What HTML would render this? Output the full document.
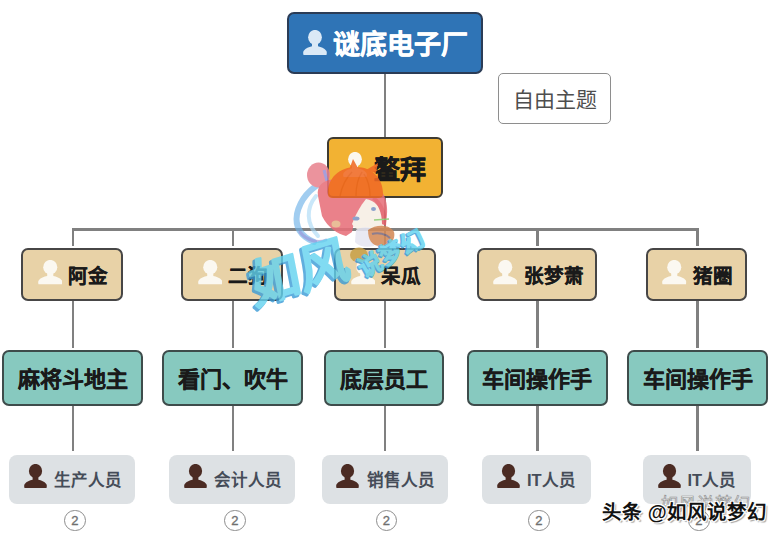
<!DOCTYPE html>
<html lang="zh-CN"><head><meta charset="utf-8">
<style>
*{margin:0;padding:0;box-sizing:border-box}
html,body{width:781px;height:538px;overflow:hidden;background:#fff;font-family:"Liberation Sans",sans-serif}
.b{position:absolute;display:flex;align-items:center;justify-content:center;white-space:nowrap}
.l{position:absolute;background:#808080}
.root{padding-top:0px;left:287px;top:11.5px;width:196px;height:62.5px;background:#2f74b6;border:2px solid #2b3c56;border-radius:7px;color:#fff;font-size:27px;font-weight:bold}
.free{padding-top:0px;left:498.3px;top:72.8px;width:112.7px;height:51.2px;background:#fff;border:1.8px solid #8e8e8e;border-radius:5px;color:#4e4e4e;font-size:21px}
.ao{padding-bottom:1px;left:327px;top:137px;width:116px;height:61px;background:#f2b233;border:2.5px solid #3f3b31;border-radius:6px;font-size:26px;font-weight:bold;color:#1a1a1a}
.r2{top:247.5px;height:53px;justify-content:flex-start;padding-left:45px;padding-top:0px;background:#e8d2a7;border:2.5px solid #474646;border-radius:7px;font-size:19.5px;font-weight:bold;color:#1a1a1a}
.r3{padding-bottom:1px;top:349.5px;height:56px;background:#87c9bf;border:2.5px solid #3e4c4b;border-radius:7px;font-size:22px;font-weight:bold;color:#1a1a1a}
.r4{top:454.5px;height:49px;justify-content:flex-start;padding-left:45px;padding-top:0px;background:#dde1e4;border-radius:8px;font-size:16.5px;font-weight:bold;color:#454c58}
.ic{position:absolute}
.root,.ao{-webkit-text-stroke:0.4px currentColor}
.r2,.r3{-webkit-text-stroke:0.25px currentColor}
.r4{-webkit-text-stroke:0px currentColor}
.c2{position:absolute;top:509.5px;width:21.5px;height:21.5px;border:1.5px solid #8d8d8d;border-radius:50%;font-size:13px;color:#707070;-webkit-text-stroke:0.35px #707070;display:flex;align-items:center;justify-content:center;background:#fff}
</style></head><body>
<svg width="0" height="0" style="position:absolute"><defs><symbol id="p" viewBox="0 0 24 25" preserveAspectRatio="none"><ellipse cx="12" cy="7.3" rx="6.9" ry="7.4"/><path d="M0.5 25C0 23 0 21.5 1 20.5C2.5 18.2 6 17 9 16.3V13H15V16.3C18 17 21.5 18.2 23 20.5C24 21.5 24 23 23.5 25Z"/></symbol></defs></svg>
<!-- lines -->
<div class="l" style="left:383.60px;top:74px;width:2.8px;height:62.5px"></div>
<div class="l" style="left:383.60px;top:198px;width:2.8px;height:31px"></div>
<div class="l" style="left:71.50px;top:228.2px;width:627.40px;height:2.8px"></div>
<div class="l" style="left:71.50px;top:229px;width:2.8px;height:17px"></div>
<div class="l" style="left:71.50px;top:301px;width:2.8px;height:46.80000000000001px"></div>
<div class="l" style="left:71.50px;top:405px;width:2.8px;height:46px"></div>
<div class="l" style="left:231.70px;top:229px;width:2.8px;height:17px"></div>
<div class="l" style="left:231.70px;top:301px;width:2.8px;height:46.80000000000001px"></div>
<div class="l" style="left:231.70px;top:405px;width:2.8px;height:46px"></div>
<div class="l" style="left:383.50px;top:229px;width:2.8px;height:17px"></div>
<div class="l" style="left:383.50px;top:301px;width:2.8px;height:46.80000000000001px"></div>
<div class="l" style="left:383.50px;top:405px;width:2.8px;height:46px"></div>
<div class="l" style="left:536.00px;top:229px;width:2.8px;height:17px"></div>
<div class="l" style="left:536.00px;top:301px;width:2.8px;height:46.80000000000001px"></div>
<div class="l" style="left:536.00px;top:405px;width:2.8px;height:46px"></div>
<div class="l" style="left:696.10px;top:229px;width:2.8px;height:17px"></div>
<div class="l" style="left:696.10px;top:301px;width:2.8px;height:46.80000000000001px"></div>
<div class="l" style="left:696.10px;top:405px;width:2.8px;height:46px"></div>

<!-- root -->
<div class="b root" style="justify-content:flex-start;padding-left:44px">谜底电子厂</div>
<svg class="ic" style="left:303px;top:30px;fill:#dbe9f6" width="24" height="25"><use href="#p"/></svg>

<div class="b free">自由主题</div>

<div class="b ao" style="justify-content:flex-start;padding-left:44.5px">鳌拜</div>
<svg class="ic" style="left:343px;top:152px;fill:#fbf7ee" width="24" height="25"><use href="#p"/></svg>

<!-- row 2 -->
<div class="b r2" style="left:21px;width:102px">阿金</div>
<div class="b r2" style="left:181px;width:102px">二狗</div>
<div class="b r2" style="left:334px;width:102px">呆瓜</div>
<div class="b r2" style="left:476.5px;width:120.5px">张梦萧</div>
<div class="b r2" style="left:646px;width:101px">猪圈</div>
<svg class="ic" style="left:37.5px;top:260px;fill:#fbf8f1" width="24.5" height="24.5"><use href="#p"/></svg>
<svg class="ic" style="left:197.5px;top:260px;fill:#fbf8f1" width="24.5" height="24.5"><use href="#p"/></svg>
<svg class="ic" style="left:350.5px;top:260px;fill:#fbf8f1" width="24.5" height="24.5"><use href="#p"/></svg>
<svg class="ic" style="left:492.5px;top:260px;fill:#fbf8f1" width="24.5" height="24.5"><use href="#p"/></svg>
<svg class="ic" style="left:662px;top:260px;fill:#fbf8f1" width="24.5" height="24.5"><use href="#p"/></svg>

<!-- row 3 -->
<div class="b r3" style="left:2px;width:141px">麻将斗地主</div>
<div class="b r3" style="left:162px;width:141px">看门、吹牛</div>
<div class="b r3" style="left:324px;width:120px">底层员工</div>
<div class="b r3" style="left:466.5px;width:141px">车间操作手</div>
<div class="b r3" style="left:627px;width:141px">车间操作手</div>

<!-- row 4 -->
<div class="b r4" style="left:9px;width:126px">生产人员</div>
<div class="b r4" style="left:169px;width:126px">会计人员</div>
<div class="b r4" style="left:322px;width:126px">销售人员</div>
<div class="b r4" style="left:482px;width:109px">IT人员</div>
<div class="b r4" style="left:642.5px;width:108.5px">IT人员</div>
<svg class="ic" style="left:23.5px;top:464px;fill:#4b2b23" width="23" height="24"><use href="#p"/></svg>
<svg class="ic" style="left:183.5px;top:464px;fill:#4b2b23" width="23" height="24"><use href="#p"/></svg>
<svg class="ic" style="left:336px;top:464px;fill:#4b2b23" width="23" height="24"><use href="#p"/></svg>
<svg class="ic" style="left:497px;top:464px;fill:#4b2b23" width="23" height="24"><use href="#p"/></svg>
<svg class="ic" style="left:657.5px;top:464px;fill:#4b2b23" width="23" height="24"><use href="#p"/></svg>

<!-- watermark cartoon -->
<svg style="position:absolute;left:0;top:0" width="781" height="538">
<g opacity="0.88">
<path d="M326 180C310 188 300 200 297 214C295 226 300 236 314 242" stroke="#72b4ea" stroke-width="6" fill="none" opacity="0.75" stroke-linecap="round"/>
<path d="M316 196C306 208 306 224 318 236" stroke="#a8d8f6" stroke-width="4" fill="none" opacity="0.7" stroke-linecap="round"/>
<path d="M300 232C306 240 318 244 326 240" stroke="#8a80d0" stroke-width="3" fill="none" opacity="0.6" stroke-linecap="round"/>
<ellipse cx="318.5" cy="175" rx="11.5" ry="12.5" fill="#e98590"/>
<path d="M324 170L330 192" stroke="#9a92d8" stroke-width="3"/>
<path d="M318 196C316 184 326 178 340 180L372 184C384 188 390 204 386 222L380 226C378 214 374 204 366 200C358 212 354 222 352 232L346 236C338 234 328 228 322 216Z" fill="#e8707a"/>
<path d="M366 199C374 200 382 208 384 218C385 226 378 232 368 232C360 232 354 228 352 224C356 214 360 206 366 199Z" fill="#f7efe4"/>
<path d="M375 197C382 202 388 212 386 226L382 224C382 212 378 204 372 199Z" fill="#e25e68"/>
<ellipse cx="356" cy="218.5" rx="3.5" ry="2" fill="#7d96c6"/>
<ellipse cx="373.5" cy="209" rx="2.5" ry="2" fill="#7d96c6"/>
<path d="M374 220L389 219" stroke="#8acb72" stroke-width="1.6"/>
<ellipse cx="336" cy="224" rx="4.5" ry="3.5" fill="#e6b48a"/>
<path d="M328 194C327 178 340 167 356 167C372 167 383 178 383 194C383 197 381 198 378 198L332 198C330 198 328 197 328 194Z" fill="#f06a26"/>
<path d="M340 196C342 186 346 178 352 172M356 196C356 186 358 178 362 172M370 196C370 188 368 180 364 174" stroke="#e45c18" stroke-width="1.3" fill="none" opacity="0.8"/>
<path d="M349 170L353 159L358 168Z" fill="#f06a26"/>
<path d="M366 170L378 163L376 173Z" fill="#f06a26"/>
<path d="M356 230C362 226 372 226 376 232L374 246C366 248 358 246 355 242Z" fill="#e6e6f2"/>
<path d="M368 230C376 224 390 224 394 232C396 240 390 246 380 246C372 246 368 240 368 230Z" fill="#d48a58"/>
<path d="M372 234C378 232 386 234 390 238" stroke="#5a6090" stroke-width="2" fill="none" opacity="0.7"/>
<ellipse cx="359" cy="255" rx="9" ry="7.5" fill="#c9a24a"/>
</g>

<g opacity="0.8">
<text transform="translate(252,307) rotate(-17) skewX(-6)" font-size="51" fill="#3a9bd6" stroke="#3a9bd6" stroke-width="4" stroke-linejoin="round">如风</text>
<text transform="translate(254,305) rotate(-17) skewX(-6)" font-size="51" fill="#62d3f0" stroke="#62d3f0" stroke-width="3" stroke-linejoin="round">如风</text>
</g>
<g opacity="0.82">
<text transform="translate(363,279) rotate(-29)" font-size="24" fill="#3a9bd6" stroke="#3a9bd6" stroke-width="2.6" stroke-linejoin="round">说梦幻</text>
<text transform="translate(364,278) rotate(-29)" font-size="24" fill="#62d3f0" stroke="#62d3f0" stroke-width="1.6" stroke-linejoin="round">说梦幻</text>
</g>
</svg>
<div class="c2" style="left:64.2px">2</div>
<div class="c2" style="left:224.2px">2</div>
<div class="c2" style="left:375.5px">2</div>
<div class="c2" style="left:528.2px">2</div>
<div class="c2" style="left:688.2px">2</div>

<div id="wm0" style="position:absolute;left:661px;top:490px;font-size:17px;color:#fff;-webkit-text-stroke:0.7px #8a8a8a;opacity:0.9;letter-spacing:1px">如风说梦幻</div>
<div id="wm" style="position:absolute;left:602px;top:496px;font-size:19.4px;letter-spacing:0.8px;font-weight:bold;color:#111;text-shadow:1px 1px 0 #fff,-1px -1px 0 #fff,1px -1px 0 #fff,-1px 1px 0 #fff,2px 2px 1px rgba(0,0,0,.35)">头条 @如风说梦幻</div>
</body></html>
